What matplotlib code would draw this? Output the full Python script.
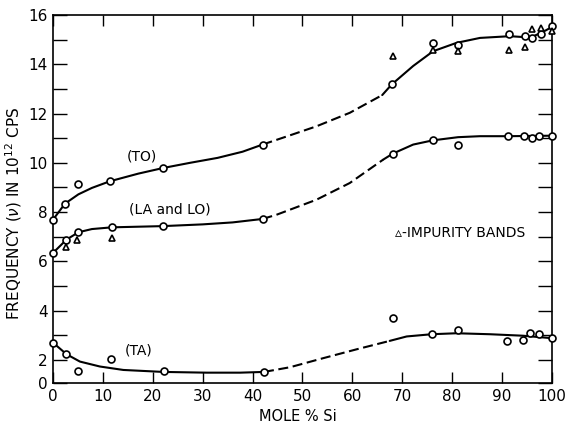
import matplotlib
matplotlib.use('Agg')
import matplotlib.pyplot as plt
import numpy as np

# measured points (mole % Si, frequency in 10^12 cps)
to_x = [0, 2.4, 5.1, 11.4, 22.1, 42.0, 67.9, 76.2, 81.2, 91.4, 94.6, 96.1, 97.8, 100]
to_y = [7.69, 8.34, 9.14, 9.25, 9.79, 10.74, 13.18, 14.87, 14.78, 15.21, 15.14, 15.05, 15.24, 15.56]
to_imp_x = [68.2, 76.2, 81.2, 91.4, 94.6, 96.1, 97.9, 100]
to_imp_y = [14.33, 14.56, 14.53, 14.56, 14.69, 15.43, 15.47, 15.35]

la_x = [0, 2.7, 5.1, 11.8, 22.1, 42.0, 68.1, 76.1, 81.2, 91.2, 94.4, 96.0, 97.4, 100]
la_y = [6.34, 6.88, 7.18, 7.38, 7.43, 7.72, 10.37, 10.91, 10.71, 11.08, 11.1, 11.02, 11.1, 11.1]
la_imp_x = [2.7, 4.9, 11.8]
la_imp_y = [6.57, 6.85, 6.95]

ta_x = [0, 2.7, 5.1, 11.6, 22.3, 42.3, 68.2, 75.9, 81.2, 91.1, 94.2, 95.6, 97.5, 100]
ta_y = [2.70, 2.23, 1.53, 2.03, 1.53, 1.51, 3.70, 3.04, 3.22, 2.77, 2.81, 3.08, 3.06, 2.88]

# hand-drawn guide curves: solid / dashed / solid
to_c1_x = [0, 2.4, 5.1, 7.8, 11.4, 17.1, 22.1, 27.5, 33, 38, 42]
to_c1_y = [7.69, 8.34, 8.72, 8.98, 9.25, 9.56, 9.79, 10.0, 10.2, 10.45, 10.74]
to_c2_x = [42, 47, 52.8, 59.5, 66]
to_c2_y = [10.74, 11.08, 11.48, 12.03, 12.75]
to_c3_x = [66, 67.9, 72.2, 76.2, 80.9, 85.6, 91.6, 94.6, 96.3, 97.9, 100]
to_c3_y = [12.75, 13.18, 13.93, 14.53, 14.87, 15.07, 15.14, 15.1, 15.14, 15.28, 15.51]

la_c1_x = [0, 2.7, 5.1, 7.8, 11.8, 22.1, 30, 36, 42]
la_c1_y = [6.34, 6.88, 7.18, 7.31, 7.38, 7.43, 7.5, 7.58, 7.72]
la_c2_x = [42, 44.8, 52.8, 59.5, 66.2]
la_c2_y = [7.72, 7.89, 8.5, 9.18, 10.13]
la_c3_x = [66.2, 68.1, 72.2, 76.1, 81.2, 85.6, 91.2, 100]
la_c3_y = [10.13, 10.37, 10.74, 10.91, 11.04, 11.08, 11.08, 11.1]

ta_c1_x = [0, 2.7, 5.4, 9.4, 14.1, 22.1, 30.8, 37.5, 42.3]
ta_c1_y = [2.70, 2.23, 1.93, 1.73, 1.59, 1.51, 1.48, 1.48, 1.51]
ta_c2_x = [42.3, 47.5, 54.2, 60.9, 67.5]
ta_c2_y = [1.51, 1.70, 2.07, 2.43, 2.77]
ta_c3_x = [67.5, 70.9, 75.9, 80.9, 87.6, 94.2, 100]
ta_c3_y = [2.77, 2.95, 3.04, 3.08, 3.04, 2.98, 2.88]

y_bottom = 1.06

fig = plt.figure(figsize=(5.66, 4.25), dpi=100)
ax = fig.add_axes([0.0936, 0.0988, 0.8814, 0.8659])

lw = 1.5
for cx, cy in [(to_c1_x, to_c1_y), (to_c3_x, to_c3_y), (la_c1_x, la_c1_y),
               (la_c3_x, la_c3_y), (ta_c1_x, ta_c1_y), (ta_c3_x, ta_c3_y)]:
    ax.plot(cx, cy, color='black', lw=lw, solid_capstyle='round', zorder=2)
for cx, cy in [(to_c2_x, to_c2_y), (la_c2_x, la_c2_y), (ta_c2_x, ta_c2_y)]:
    ax.plot(cx, cy, color='black', lw=lw, dashes=(4.8, 2.2), zorder=2)

for px, py in [(to_x, to_y), (la_x, la_y), (ta_x, ta_y)]:
    ax.plot(px, py, 'o', ms=5, mfc='white', mec='black', mew=1.2, zorder=4, clip_on=False)
for px, py in [(to_imp_x, to_imp_y), (la_imp_x, la_imp_y)]:
    ax.plot(px, py, '^', ms=5, mfc='white', mec='black', mew=1.2, zorder=4, clip_on=False)

ax.text(17.8, 10.25, '(TO)', fontsize=10, ha='center', va='center')
ax.text(15.3, 8.1, '(LA and LO)', fontsize=10, ha='left', va='center')
ax.text(17.1, 2.4, '(TA)', fontsize=10, ha='center', va='center')
ax.text(68.5, 7.16, '\u25b5-IMPURITY BANDS', fontsize=10, ha='left', va='center')

ax.set_xlim(0, 100)
ax.set_ylim(y_bottom, 16)
ax.set_xticks(range(0, 101, 10))
ax.set_yticks([y_bottom] + list(range(2, 17, 2)))
ax.set_yticklabels(['0'] + [str(v) for v in range(2, 17, 2)])
ax.set_yticks(range(3, 16, 2), minor=True)
ax.tick_params(which='both', direction='in', length=10, width=1.0,
               top=True, right=True, labelsize=11, pad=4)
ax.tick_params(axis='x', length=8)
for s in ax.spines.values():
    s.set_linewidth(1.2)

ax.set_xlabel('MOLE % Si', fontsize=10.5)
ax.set_ylabel('FREQUENCY ($\\nu$) IN 10$^{12}$ CPS', fontsize=11)
ax.xaxis.set_label_coords(0.49, -0.07)
ax.yaxis.set_label_coords(-0.058, 0.46)

fig.savefig('out.png', dpi=100)
